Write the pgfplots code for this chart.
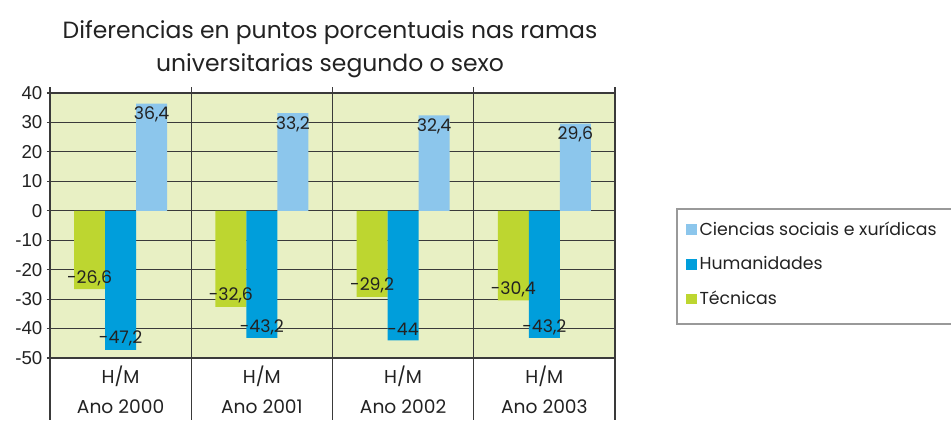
\documentclass[border=0pt]{standalone}
\usepackage{fontspec}
\setmainfont{Poppins}
\newfontfamily\tickfont{Liberation Sans}
\usepackage{pgfplots}
\pgfplotsset{compat=1.18}
\definecolor{cien}{HTML}{8CC6EC}
\definecolor{hum}{HTML}{009EDB}
\definecolor{tec}{HTML}{BDD630}
\definecolor{bg}{HTML}{E8F0C4}
\definecolor{ln}{HTML}{3A3A3A}
\definecolor{txt}{HTML}{222222}
\begin{document}
\begin{tikzpicture}
\useasboundingbox (-37.5pt,-48pt) rectangle (675.75pt,268.5pt);
\begin{axis}[
  at={(0,0)}, anchor=south west,
  width=423.75pt, height=198.75pt, scale only axis,
  ybar=0pt, bar width=23.25pt,
  xmin=-0.5, xmax=3.5, ymin=-50, ymax=40,
  ytick={-50,-40,...,40},
  xtick={0,1,2,3},
  xticklabels={{H/M\\[7pt]Ano 2000},{H/M\\[7pt]Ano 2001},{H/M\\[7pt]Ano 2002},{H/M\\[7pt]Ano 2003}},
  xticklabel style={align=center, font=\fontsize{14}{16}\selectfont, text=txt},
  yticklabel style={font=\tickfont\fontsize{14}{16}\selectfont, text=txt},
  /pgf/number format/.cd, use comma, 1000 sep={}, assume math mode=true, /pgfplots/.cd,
  axis line style={draw=none},
  ymajorgrids, grid style={ln, line width=0.8pt},
  xtick style={draw=none},
  ytick style={ln, line width=0.8pt},
  major tick length=2.25pt, tick align=outside, ytick pos=left,
  axis background/.style={fill=bg},
  clip=false,
  reverse legend,
  point meta=explicit symbolic,
  legend style={at={(1.118,0.535)}, anchor=north west, draw=none, fill=none,
    font=\fontsize{13}{15}\selectfont, text=txt, row sep=10.5pt},
  legend cell align=left,
]
\addplot[fill=tec, draw=none, nodes near coords,
  every node near coord/.append style={anchor=center, yshift=8.25pt, font=\fontsize{13}{15}\selectfont, text=txt},
  legend image code/.code={\fill[tec] (0pt,-4.1pt) rectangle (8.25pt,4.1pt);}]
  coordinates {(0,-26.6) [-26,6] (1,-32.6) [-32,6] (2,-29.2) [-29,2] (3,-30.4) [-30,4]};
\addlegendentry{Técnicas}
\addplot[fill=hum, draw=none, nodes near coords,
  every node near coord/.append style={anchor=center, yshift=8.25pt, font=\fontsize{13}{15}\selectfont, text=txt},
  legend image code/.code={\fill[hum] (0pt,-4.1pt) rectangle (8.25pt,4.1pt);}]
  coordinates {(0,-47.2) [-47,2] (1,-43.2) [-43,2] (2,-44) [-44] (3,-43.2) [-43,2]};
\addlegendentry{Humanidades}
\addplot[fill=cien, draw=none, nodes near coords,
  every node near coord/.append style={anchor=center, yshift=-8.25pt, font=\fontsize{13}{15}\selectfont, text=txt},
  legend image code/.code={\fill[cien] (0pt,-4.1pt) rectangle (8.25pt,4.1pt);}]
  coordinates {(0,36.4) [36,4] (1,33.2) [33,2] (2,32.4) [32,4] (3,29.6) [29,6]};
\addlegendentry{Ciencias sociais e xurídicas}
\pgfplotsinvokeforeach{-0.5,0.5,1.5,2.5,3.5}{
  \draw[ln, line width=0.8pt] (axis cs:#1,42) -- (axis cs:#1,-71);
}
\end{axis}
\draw[gray!80, line width=0.8pt] (470.25pt,111.75pt) rectangle (690pt,25.5pt);
\node[anchor=base, font=\fontsize{17.6}{20}\selectfont, text=txt] at (210pt,239.25pt) {Diferencias en puntos porcentuais nas ramas};
\node[anchor=base, font=\fontsize{17.6}{20}\selectfont, text=txt] at (210pt,214.5pt) {universitarias segundo o sexo};
\end{tikzpicture}
\end{document}
